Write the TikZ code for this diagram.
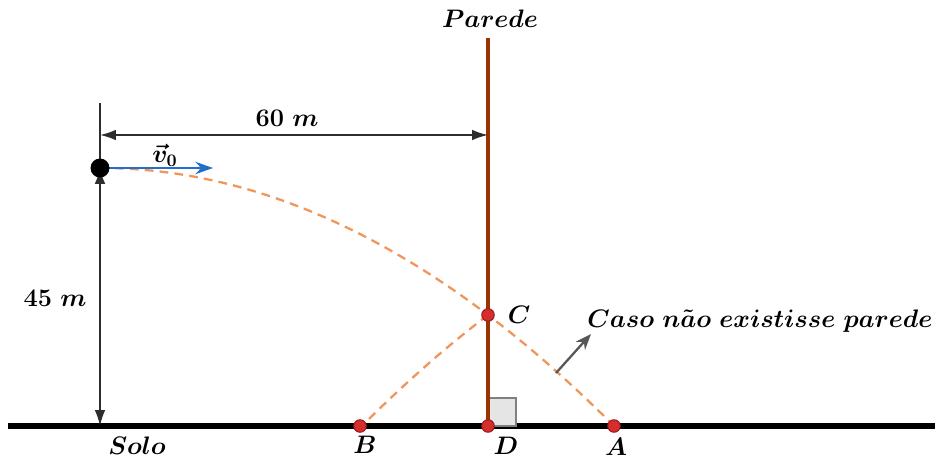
\documentclass[tikz,border=0pt]{standalone}
\usepackage{amsmath, amssymb}
\usepackage{bm}
\usepackage[dvipsnames, svgnames]{xcolor}
\usetikzlibrary{arrows.meta,positioning}
\definecolor{paredecor}{RGB}{153,51,0}
\definecolor{trajcor}{RGB}{240,150,90}
\definecolor{vcor}{RGB}{35,110,200}
\definecolor{pontocor}{RGB}{215,45,45}
\definecolor{cotacor}{RGB}{45,45,45}
\tikzset{
    ponto/.style={circle, fill=pontocor, draw=pontocor!70!black, line width=0.6pt, inner sep=0pt, minimum size=0.25cm},
    traj/.style={trajcor, dashed, dash pattern=on 5pt off 3.5pt, line width=1.3pt},
    cota/.style={cotacor, line width=1pt},
    rotulo/.style={font=\Large}
}
\begin{document}
\begin{tikzpicture}[x=0.02cm, y=-0.02cm]
    \useasboundingbox (0,0) rectangle (935,459);
    % pontos
    \coordinate (bola) at (100,168);
    \coordinate (topo) at (100,103);
    \coordinate (O) at (100,426);
    \coordinate (parT) at (488,38);
    \coordinate (D) at (488,426);
    \coordinate (C) at (488,315);
    \coordinate (A) at (614,426);
    \coordinate (B) at (360,426);
    \coordinate (cotaE) at (100,135);
    \coordinate (cotaD) at (488,135);
    \coordinate (vfim) at (213,168);
    \coordinate (setaI) at (556,373);
    \coordinate (setaF) at (591,334);
    % solo e parede
    \draw[line width=3.2pt] (8,426) -- (935,426);
    \fill[gray!20, draw=gray, line width=1pt] (D) rectangle (516,398);
    \draw[paredecor, line width=2.3pt] (D) -- (parT);
    % cotas
    \draw[cota] (topo) -- (bola);
    \draw[cota, {Latex[length=9pt,width=6pt]}-{Latex[length=9pt,width=6pt]}] (bola) -- (O);
    \draw[cota, {Latex[length=9pt,width=6pt]}-{Latex[length=9pt,width=6pt]}] (cotaE) -- (cotaD);
    % trajetorias
    \draw[traj] plot[domain=100:614, samples=60] (\x,{168+258*((\x-100)/514)^2});
    \draw[traj] plot[domain=488:360, samples=30] (\x,{168+258*((876-\x)/514)^2});
    % velocidade
    \draw[vcor, line width=1.5pt, -{Stealth[length=10pt,width=7pt]}] (bola) -- (vfim);
    \fill (bola) circle (0.19cm);
    \draw[cotacor!80, line width=1.3pt, -{Stealth[length=9pt,width=7pt]}] (setaI) -- (setaF);
    \foreach \p in {A,B,C,D}{
            \node[ponto] (p\p) at (\p) {};
        }
    % rotulos
    \node[rotulo] (lparede) at (490,19) {$\boldsymbol{Parede}$};
    \node[rotulo] (l60) at (287,118) {$\boldsymbol{60\ m}$};
    \node[rotulo] (l45) at (55,298) {$\boldsymbol{45\ m}$};
    \node[rotulo] (lv) at (165,155) {$\boldsymbol{\vec{v}_0}$};
    \node[rotulo] (lsolo) at (137,446) {$\boldsymbol{Solo}$};
    \node[rotulo] (lB) at (365,445) {$\boldsymbol{B}$};
    \node[rotulo] (lC) at (519,315) {$\boldsymbol{C}$};
    \node[rotulo] (lD) at (506,446) {$\boldsymbol{D}$};
    \node[rotulo] (lA) at (616,447) {$\boldsymbol{A}$};
    \node[rotulo] (lcaso) at (760,321) {$\boldsymbol{Caso\ n\tilde{a}o\ existisse\ parede}$};
\end{tikzpicture}
\end{document}
